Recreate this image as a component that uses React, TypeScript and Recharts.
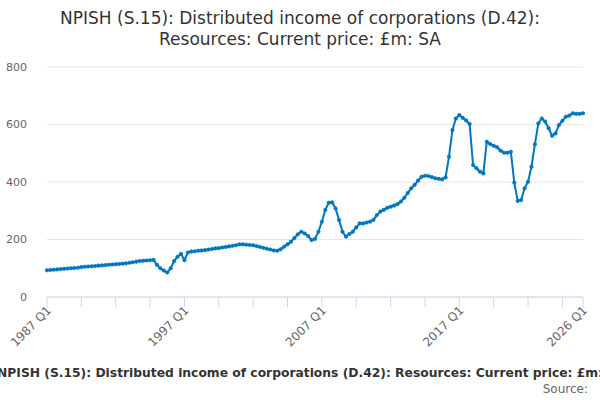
import { LineChart, Line, XAxis, YAxis, CartesianGrid } from "recharts";

// quarterly, 1987 Q1 .. 2026 Q1
const startYear = 1987;

const values = [
  93, 94, 95, 96, 97, 98, 99, 100, 101, 102, 104, 105, 106, 107, 108, 109,
  110, 111, 112, 113, 114, 115, 116, 117, 119, 121, 123, 125, 126, 127, 128, 129,
  112, 100, 92, 85, 100, 125, 140, 150, 128, 155, 158,
  159, 161, 162, 163, 165, 167, 169, 170, 172, 174, 176, 178, 180, 183,
  183, 182, 181, 180, 177, 174, 171, 168, 165, 162,
  161, 166, 175, 183, 192, 205, 218, 227, 221, 212, 198, 202, 227, 262, 303, 328,
  329, 308, 268, 227, 210, 219, 227, 242, 256, 256, 259, 262, 268, 285, 297, 303,
  310, 314, 318, 323, 332, 345, 362, 378, 390, 405, 418, 422, 421, 417, 413, 411,
  409, 416, 488, 581, 621, 633, 623, 614, 602, 459, 448, 436, 430, 540, 532, 526,
  521, 509, 502, 502, 505, 398, 334, 337, 378, 401, 453, 531, 604, 621, 610, 587,
  561, 569, 598, 613, 627, 631, 639, 637, 637, 639,
];

const tickIndexes = [0, 10, 20, 30, 40, 50, 60, 70, 80, 90, 100, 110, 120, 130, 140, 150, 156];
const labelIndexes = [0, 40, 80, 120, 156];
const yTicks = [0, 200, 400, 600, 800];

const quarterLabel = (i: number) =>
  `${startYear + Math.floor(i / 4)} Q${(i % 4) + 1}`;

const data = values.map((v, i) => ({ idx: i, label: quarterLabel(i), value: v }));

const lineColor = "#0076be";
const font = "'DejaVu Sans', Verdana, sans-serif";

function XTick(props: any) {
  const { x, payload } = props;
  if (!labelIndexes.includes(payload.value)) return null;
  return (
    <g transform={`translate(${x + 5},${311})`}>
      <text
        x={0}
        y={0}
        textAnchor="end"
        transform="rotate(-45)"
        fill="#666666"
        fontSize={12}
        fontFamily={font}
      >
        {quarterLabel(payload.value)}
      </text>
    </g>
  );
}

export default function App() {
  return (
    <div
      style={{
        position: "absolute",
        left: 0,
        top: 0,
        width: 600,
        height: 400,
        background: "#fff",
        fontFamily: font,
        overflow: "hidden",
      }}
    >
      <div
        style={{
          position: "absolute",
          top: 8,
          left: 0,
          width: 600,
          textAlign: "center",
          fontSize: 17,
          lineHeight: "21px",
          color: "#333333",
        }}
      >
        NPISH (S.15): Distributed income of corporations (D.42):
        <br />
        Resources: Current price: £m: SA
      </div>
      <LineChart
        width={600}
        height={400}
        data={data}
        margin={{ top: 67, right: 17, left: 0, bottom: 0 }}
      >
        <CartesianGrid vertical={false} stroke="#e6e6e6" />
        <XAxis
          dataKey="idx"
          type="number"
          domain={[0, 156]}
          ticks={tickIndexes}
          interval={0}
          height={103}
          stroke="#ccd6eb"
          tickSize={10}
          tick={<XTick />}
        />
        <YAxis
          domain={[0, 800]}
          ticks={yTicks}
          width={47}
          axisLine={false}
          tickLine={false}
          tickMargin={14}
          tick={{ fill: "#666666", fontSize: 11, fontFamily: font }}
        />
        <Line
          type="linear"
          dataKey="value"
          stroke={lineColor}
          strokeWidth={2}
          dot={{ r: 1.8, fill: lineColor, stroke: lineColor, strokeWidth: 0.5 }}
          isAnimationActive={false}
        />
      </LineChart>
      <div
        style={{
          position: "absolute",
          top: 366,
          left: -3,
          whiteSpace: "nowrap",
          fontSize: 12.3,
          fontWeight: "bold",
          color: "#333333",
        }}
      >
        NPISH (S.15): Distributed income of corporations (D.42): Resources: Current price: £m: SA
      </div>
      <div
        style={{
          position: "absolute",
          top: 382,
          right: 12,
          fontSize: 12,
          color: "#666666",
        }}
      >
        Source:
      </div>
    </div>
  );
}
